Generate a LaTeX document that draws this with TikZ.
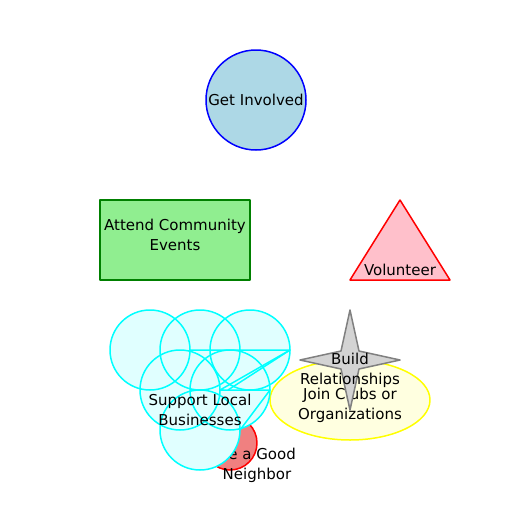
\documentclass[tikz,border=0pt]{standalone}
\usepackage{fontspec}
\setmainfont{DejaVu Sans}
\usepackage{tikz}
\definecolor{lightblue}{RGB}{173,216,230}
\definecolor{darkgreen}{RGB}{0,128,0}
\definecolor{lightgreen}{RGB}{144,238,144}
\definecolor{pinkfill}{RGB}{255,192,203}
\definecolor{lightyellow}{RGB}{255,255,224}
\definecolor{pureyellow}{RGB}{255,255,0}
\definecolor{lightgrayfill}{RGB}{211,211,211}
\definecolor{midgray}{RGB}{128,128,128}
\definecolor{coral}{RGB}{240,128,128}
\definecolor{lightcyan}{RGB}{224,255,255}
\definecolor{purecyan}{RGB}{0,255,255}
\tikzset{
  lbl/.style={align=center, font=\fontsize{15pt}{20pt}\selectfont, inner sep=0pt},
  edge/.style={line width=1.5pt, line join=round}
}

\begin{document}
\begin{tikzpicture}[x=1pt, y=-1pt]
                \useasboundingbox (0,0) rectangle (512,512);
                % top circle
                \draw[edge, blue, fill=lightblue] (256,100) circle (50);
                \node[lbl] (involved) at (256,100) {Get Involved};
                % box and triangle
                \draw[edge, darkgreen, fill=lightgreen] (100,200) rectangle (250,280);
                \node[lbl] (events) at (175,235) {Attend Community\\Events};
                \draw[edge, red, fill=pinkfill] (350,280) -- (450,280) -- (400,200) -- cycle;
                \node[lbl] (volunteer) at (400,270) {Volunteer};
                % ellipse, then star on top
                \draw[edge, pureyellow, fill=lightyellow] (350,400) ellipse (80 and 40);
                \node[lbl] (clubs) at (350,405) {Join Clubs or\\Organizations};
                \draw[edge, midgray, fill=lightgrayfill] (350,310) -- (359,351) -- (400,360) -- (359,369) -- (350,410) -- (341,369) -- (300,360) -- (341,351) -- cycle;
                \node[lbl] (relations) at (350,370) {Build\\Relationships};
                % red circle under the cloud
                \draw[edge, red, fill=coral] (230,443) circle (27);
                \node[lbl] (neighbor) at (257,465) {Be a Good\\Neighbor};
                % cloud
                \foreach \cx/\cy in {150/350, 200/350, 250/350, 180/390, 230/390, 200/430}
                    \fill[lightcyan] (\cx,\cy) circle (40);
                \fill[lightcyan] (190,350) -- (290,350) -- (220,390) -- (270,390) -- (240,430) -- cycle;
                \foreach \cx/\cy in {150/350, 200/350, 250/350, 180/390, 230/390, 200/430}
                    \draw[edge, purecyan] (\cx,\cy) circle (40);
                \draw[edge, purecyan] (190,350) -- (290,350) -- (220,390) -- (270,390) -- (240,430);
                \draw[edge, purecyan] (290,350) -- (228,390);
                \node[lbl] (business) at (200,410) {Support Local\\Businesses};
            \end{tikzpicture}
\end{document}
